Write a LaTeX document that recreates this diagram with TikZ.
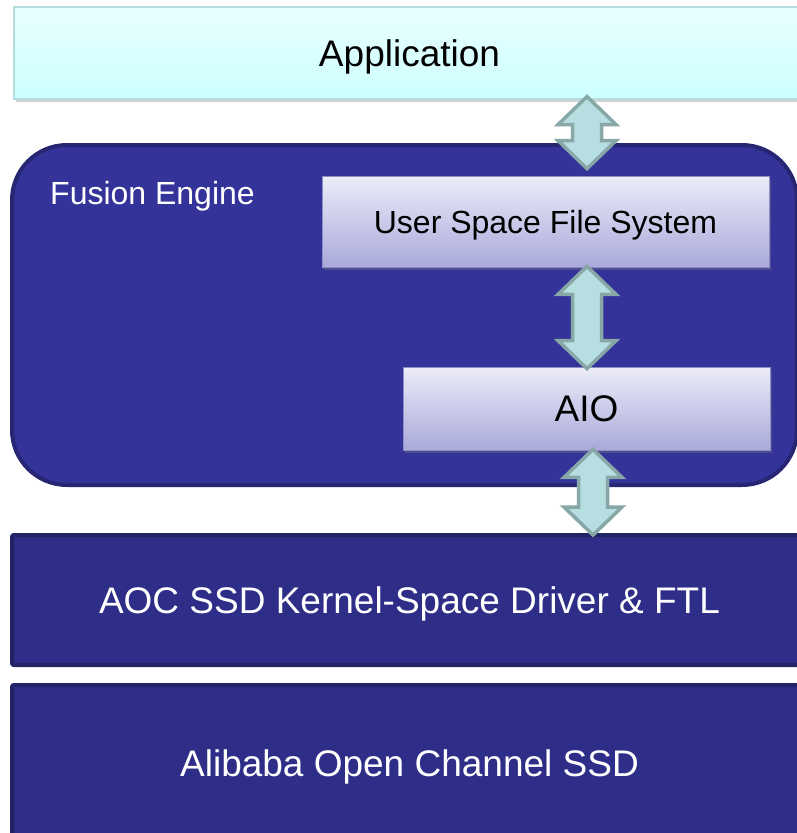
\documentclass[tikz,border=0pt]{standalone}
\usepackage{fontspec}
\setmainfont{Liberation Sans}
\usetikzlibrary{calc}
\usetikzlibrary{positioning}
\usetikzlibrary{shadows}

\definecolor{apptop}{HTML}{E9FFFF}
\definecolor{appbot}{HTML}{CCFFFF}
\definecolor{appline}{HTML}{B3DCDE}
\definecolor{engfill}{HTML}{343399}
\definecolor{engline}{HTML}{262673}
\definecolor{lowfill}{HTML}{2E2E88}
\definecolor{lowline}{HTML}{222266}
\definecolor{modtop}{HTML}{ECECF9}
\definecolor{modbot}{HTML}{A9A9DB}
\definecolor{modline}{HTML}{8D8DC4}
\definecolor{arrfill}{HTML}{B7DFE1}
\definecolor{arrline}{HTML}{88A7A7}

% double headed block arrow between two points on one vertical
\newcommand{\dblarrow}[2]{%
  \draw[blockarrow] let \p1=(#1), \p2=(#2) in
    (\p1) -- ++(29,28) -- ++(-14.5,0) -- (\x1+14.5pt,\y2+28pt) -- ++(14.5,0)
    -- (\p2) -- ++(-29,-28) -- ++(14.5,0) -- (\x1-14.5pt,\y1-28pt) -- ++(-14.5,0) -- cycle;}

\begin{document}
\begin{tikzpicture}
	[
	x=1pt, y=-1pt,
  every node/.style={font=\fontsize{37}{44}\selectfont, inner sep=0pt, text depth=0pt},
  shade/.style = {drop shadow={shadow xshift=2pt,shadow yshift=-3pt,opacity=.35}},
  applayer/.style = {draw=appline, line width=1.2pt, top color=apptop, bottom color=appbot, shade},
  engine/.style = {draw=engline, line width=4pt, fill=engfill, rounded corners=55pt},
  module/.style = {draw=modline, line width=.8pt, top color=modtop, bottom color=modbot, shade},
  lowlayer/.style = {draw=lowline, line width=4pt, fill=lowfill, rounded corners=2pt, text=white},
  blockarrow/.style = {draw=arrline, fill=arrfill, line width=3.5pt, line join=miter}
  ]
	\useasboundingbox (0,0) rectangle (797,833);
	\fill[white] (0,0) rectangle (797,833);
	\clip (0,0) rectangle (797,833);

	\coordinate (ax) at (587,0);
	\coordinate (bx) at (593,0);

	\node[applayer, minimum width=791pt, minimum height=92pt] (app) at (409.5,53) {Application};

	\node[engine, minimum width=785pt, minimum height=340pt] (eng) at (404.5,315) {};
	\node[anchor=base west, text=white, font=\fontsize{32}{38}\selectfont] (englabel) at (50,204) {Fusion Engine};

	\node[module, minimum width=447pt, minimum height=91pt, font=\fontsize{32}{38}\selectfont] (usfs) at (545.5,221.5) {User Space File System};
	\node[module, minimum width=367pt, minimum height=83pt] (aio) at (586.5,408.5) {AIO};

	\node[lowlayer, minimum width=795pt, minimum height=130pt] (drv) at (409.5,600) {AOC SSD Kernel-Space Driver \& FTL};
	\node[lowlayer, minimum width=795pt, minimum height=156pt] (ssd) at (409.5,763) {Alibaba Open Channel SSD};

	\dblarrow{[yshift=3pt]app.south -| ax}{[yshift=7pt]usfs.north -| ax}
	\dblarrow{[yshift=1pt]usfs.south -| ax}{[yshift=-2pt]aio.north -| ax}
	\dblarrow{[yshift=1pt]aio.south -| bx}{[yshift=-2pt]drv.north -| bx}

\end{tikzpicture}
\end{document}
